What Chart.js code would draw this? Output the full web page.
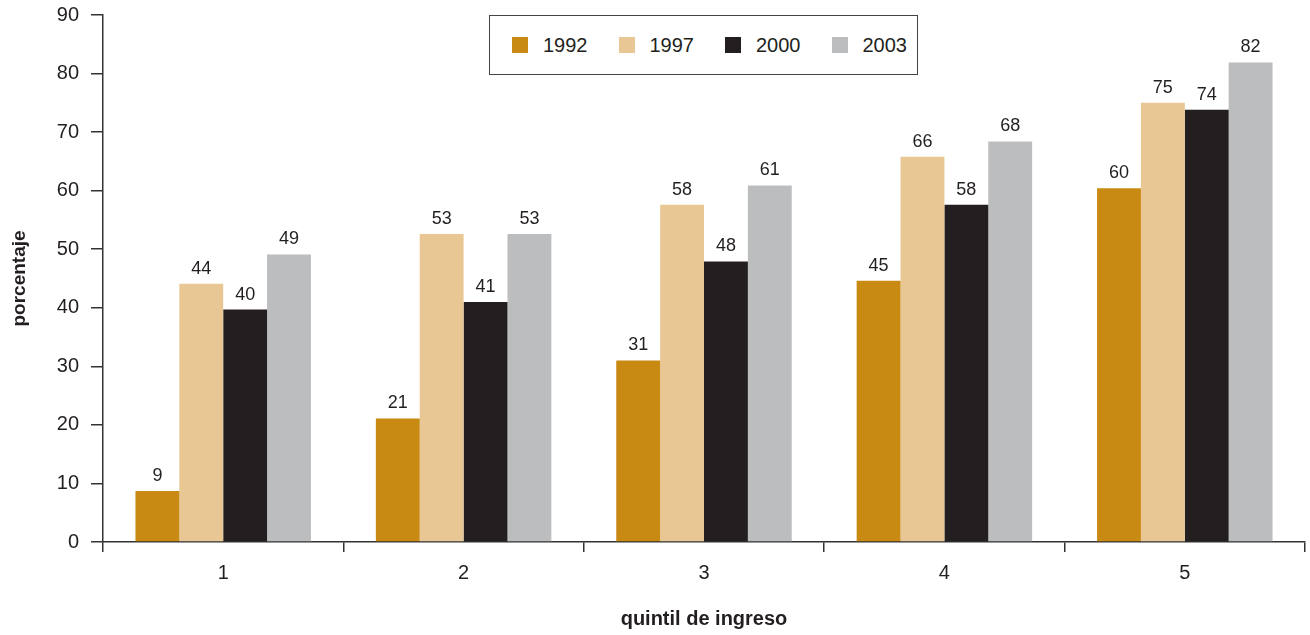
<!DOCTYPE html>
<html>
<head>
<meta charset="utf-8">
<script src="https://cdn.jsdelivr.net/npm/chart.js@4/dist/chart.umd.min.js"></script>
<style>
  html, body { margin: 0; padding: 0; background: #fff; }
  #wrap { position: relative; width: 1310px; height: 635px; }
  #legend {
    position: absolute; left: 489px; top: 15px; width: 405px; height: 58px;
    border: 1.5px solid #444; background: #fff;
    display: flex; align-items: center; padding-left: 22px; box-sizing: content-box;
    font-family: "Liberation Sans", Arial, sans-serif; font-size: 20px; color: #231F20;
  }
  #legend .item { display: flex; align-items: center; margin-right: 31px; }
  #legend .sw { width: 16px; height: 16px; margin-right: 15px; }
</style>
</head>
<body>
<div id="wrap">
  <canvas id="chart" width="1310" height="635"></canvas>
  <div id="legend"></div>
</div>
<script>
// Data
const quintiles = ['1', '2', '3', '4', '5'];
const years = ['1992', '1997', '2000', '2003'];
const v1992 = [8.7, 21.1, 31.0, 44.6, 60.4];
const v1997 = [44.1, 52.6, 57.6, 65.8, 75.0];
const v2000 = [39.7, 41.0, 47.9, 57.6, 73.8];
const v2003 = [49.1, 52.6, 60.9, 68.4, 81.9];
const yTicks = [0, 10, 20, 30, 40, 50, 60, 70, 80, 90];

const colors = ['#C88A12', '#E8C794', '#231F20', '#BCBDBF'];
const series = [v1992, v1997, v2000, v2003];
const fontFamily = '"Liberation Sans", Arial, sans-serif';
const axisColor = '#333';

// Value labels above bars
const valueLabels = {
    id: 'valueLabels',
    afterDatasetsDraw(chart) {
        const ctx = chart.ctx;
        ctx.save();
        ctx.font = '18px ' + fontFamily;
        ctx.fillStyle = '#231F20';
        ctx.textAlign = 'center';
        ctx.textBaseline = 'bottom';
        chart.data.datasets.forEach((ds, i) => {
            chart.getDatasetMeta(i).data.forEach((bar, j) => {
                ctx.fillText(Math.round(ds.data[j]), bar.x, bar.y - 6);
            });
        });
        ctx.restore();
    }
};

const ctx = document.getElementById('chart').getContext('2d');
new Chart(ctx, {
    type: 'bar',
    data: {
        labels: quintiles,
        datasets: years.map((y, i) => ({
            label: y,
            data: series[i],
            backgroundColor: colors[i],
            borderWidth: 0,
            categoryPercentage: 0.73,
            barPercentage: 1.0
        }))
    },
    options: {
        responsive: false,
        animation: false,
        layout: { padding: { top: 15, right: 5, left: 0, bottom: 0 } },
        plugins: {
            legend: { display: false },
            tooltip: { enabled: false }
        },
        scales: {
            x: {
                afterFit: (s) => { s.height = 93; },
                border: { display: true, color: axisColor, width: 1.5 },
                grid: {
                    offset: true, drawOnChartArea: false, drawTicks: true,
                    tickLength: 10, color: axisColor, lineWidth: 1.5
                },
                ticks: { color: '#231F20', font: { family: fontFamily, size: 20 }, padding: 9 },
                title: {
                    display: true, text: 'quintil de ingreso', color: '#231F20',
                    font: { family: fontFamily, size: 20, weight: 'bold' },
                    padding: { top: 0, bottom: 4 }
                }
            },
            y: {
                min: 0, max: 90,
                afterFit: (s) => { s.width = 103; s.paddingTop = 0; s.paddingBottom = 0; },
                afterBuildTicks: (s) => { s.ticks = yTicks.map(v => ({ value: v })); },
                border: { display: true, color: axisColor, width: 1.5 },
                grid: {
                    drawOnChartArea: false, drawTicks: true,
                    tickLength: 12, color: axisColor, lineWidth: 1.5
                },
                ticks: { color: '#231F20', font: { family: fontFamily, size: 20 }, padding: 12 },
                title: {
                    display: true, text: 'porcentaje', color: '#231F20',
                    font: { family: fontFamily, size: 19, weight: 'bold' },
                    padding: { top: 8, bottom: 0 }
                }
            }
        }
    },
    plugins: [valueLabels]
});

// Legend with border box
const legendEl = document.getElementById('legend');
years.forEach((y, i) => {
    const item = document.createElement('div');
    item.className = 'item';
    item.innerHTML = `<span class="sw" style="background:${colors[i]}"></span><span>${y}</span>`;
    legendEl.appendChild(item);
});
</script>
</body>
</html>
